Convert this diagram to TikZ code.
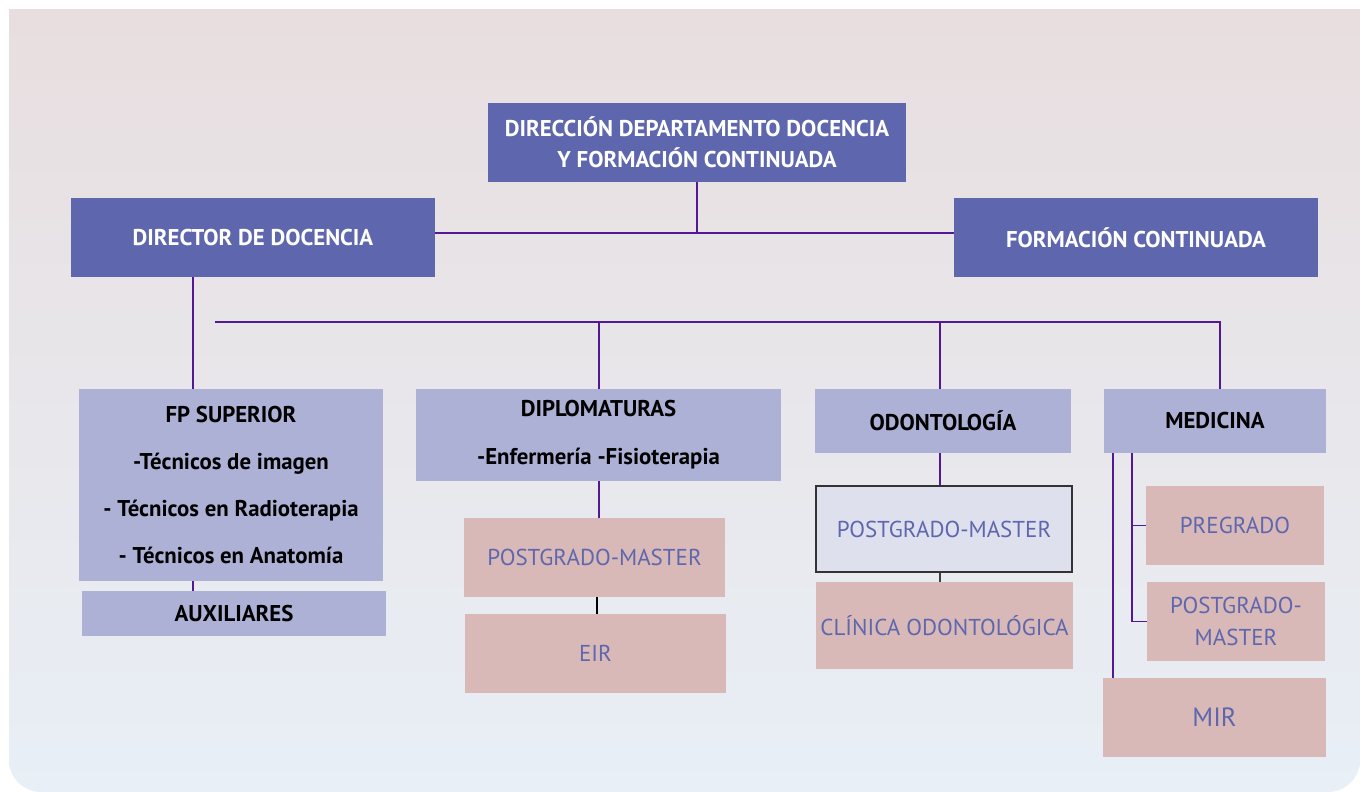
\documentclass[tikz,border=0pt]{standalone}
\usepackage{fontspec}
\setmainfont{PT Sans}
\usetikzlibrary{positioning}
\usetikzlibrary{calc}

\definecolor{darkbox}{RGB}{94,103,174}
\definecolor{lightbox}{RGB}{174,177,214}
\definecolor{pinkbox}{RGB}{216,185,184}
\definecolor{palebox}{RGB}{223,224,238}
\definecolor{linkcol}{RGB}{84,24,150}
\definecolor{bgtop}{RGB}{232,222,223}
\definecolor{bgbot}{RGB}{232,239,246}

\begin{document}
\begin{tikzpicture}[x=0.5pt,y=-0.5pt,
  box/.style={rectangle,inner sep=0pt,align=center,font=\fontsize{11.4}{15.5}\selectfont\bfseries},
  topbox/.style={box,fill=darkbox,text=white},
  unitbox/.style={box,fill=lightbox,text=black},
  subbox/.style={rectangle,inner sep=0pt,align=center,fill=pinkbox,text=darkbox,font=\fontsize{11.5}{16}\selectfont},
  link/.style={draw=linkcol,line width=0.9pt}]
\useasboundingbox (0,0) rectangle (1360,792);

%background
\begin{scope}
\clip[rounded corners=16pt] (9,-40) rectangle (1360,792);
\shade[top color=bgtop,bottom color=bgbot] (9,10) rectangle (1360,792);
\end{scope}

%top level
\node[topbox,minimum width=209pt,minimum height=39.5pt] (dir) at (697,142.5) {DIRECCIÓN DEPARTAMENTO DOCENCIA\\Y FORMACIÓN CONTINUADA};
\node[topbox,minimum width=182pt,minimum height=39.5pt] (ddoc) at (253,237.5) {DIRECTOR DE DOCENCIA};
\node[topbox,minimum width=182pt,minimum height=39.5pt] (fcont) at (1136,237.5) {FORMACIÓN CONTINUADA};

%units
\node[unitbox,minimum width=152pt,minimum height=96pt,font=\fontsize{11.4}{23.5}\selectfont\bfseries] (fp) at (231,485) {FP SUPERIOR\\-Técnicos de imagen\\- Técnicos en Radioterapia\\- Técnicos en Anatomía};
\node[unitbox,minimum width=152pt,minimum height=22.5pt] (aux) at (234,613.5) {AUXILIARES};
\node[unitbox,minimum width=182.5pt,minimum height=46pt,font=\fontsize{11.4}{24}\selectfont\bfseries] (dipl) at (598.5,435) {DIPLOMATURAS\\-Enfermería -Fisioterapia};
\node[unitbox,minimum width=128pt,minimum height=32pt] (odon) at (943,421) {ODONTOLOGÍA};
\node[unitbox,minimum width=111pt,minimum height=32pt] (med) at (1215,421) {MEDICINA};

%diplomaturas
\node[subbox,minimum width=130.5pt,minimum height=39.5pt] (pgd) at (594.5,557.5) {POSTGRADO-MASTER};
\node[subbox,minimum width=130.5pt,minimum height=39.5pt] (eir) at (595.5,653.5) {EIR};

%odontologia
\node[subbox,fill=palebox,draw=black!80,line width=0.6pt,minimum width=128pt,minimum height=43pt] (pgo) at (944,529) {POSTGRADO-MASTER};
\node[subbox,minimum width=128.5pt,minimum height=43.5pt] (clin) at (944.5,625.5) {CLÍNICA ODONTOLÓGICA};

%medicina
\node[subbox,minimum width=89pt,minimum height=39.5pt] (preg) at (1235,525.5) {PREGRADO};
\node[subbox,minimum width=89pt,minimum height=39.5pt] (pgm) at (1236,621.5) {POSTGRADO-\\MASTER};
\node[subbox,minimum width=111.5pt,minimum height=39.5pt,font=\fontsize{13.2}{16}\selectfont] (mir) at (1214.5,717.5) {MIR};

%connectors
\coordinate (bar) at (697,233);
\coordinate (fpline) at (193,0);
\coordinate (busL) at (215,322);
\coordinate (busR) at (1220,322);
\coordinate (oline) at (940,0);
\coordinate (mout) at (1113,0);
\coordinate (min) at (1132,0);

\draw[link] (dir.south) -- (bar);
\draw[link] (ddoc.east |- bar) -- (fcont.west |- bar);
\draw[link] (ddoc.south -| fpline) -- (fp.north -| fpline);
\draw[link] (fp.south -| fpline) -- (aux.north -| fpline);
\draw[link] (busL) -- (busR) -- (busR |- med.north);
\draw[link] (dipl.north -| 599,0) -- (busL -| 599,0);
\draw[link] (odon.north -| oline) -- (busL -| oline);
\draw[link] (dipl.south -| 599,0) -- (pgd.north -| 599,0);
\draw[black,line width=0.8pt] (pgd.south -| 597,0) -- (eir.north -| 597,0);
\draw[link] (odon.south -| oline) -- (pgo.north -| oline);
\draw[black!75,line width=0.8pt] (pgo.south -| oline) -- (clin.north -| oline);
\draw[link] (med.south -| mout) -- (mir.north -| mout);
\draw[link] (med.south -| min) |- (pgm.west);
\draw[link] (min |- preg.west) -- (preg.west);
\end{tikzpicture}
\end{document}
